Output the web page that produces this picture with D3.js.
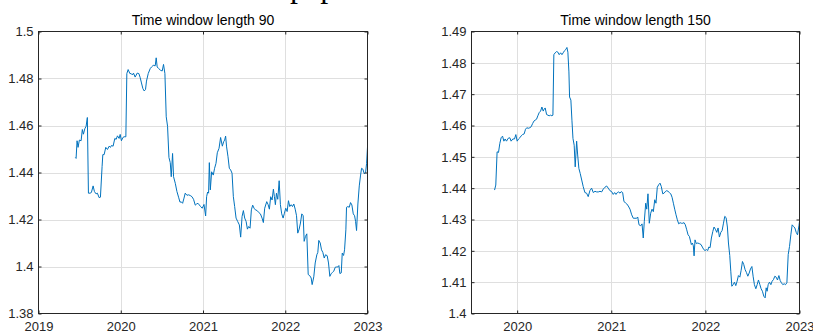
<!DOCTYPE html>
<html>
<head>
<meta charset="utf-8">
<script src="https://cdn.jsdelivr.net/npm/d3@7"></script>
<style>
  html, body { margin: 0; padding: 0; background: #fff; }
  svg { display: block; }
</style>
</head>
<body>
<script>
// Axis ticks for each panel
const yearTicks90 = [2019, 2020, 2021, 2022, 2023];
const valueTicks90 = [1.38, 1.40, 1.42, 1.44, 1.46, 1.48, 1.50];
const yearTicks150 = [2020, 2021, 2022, 2023];
const valueTicks150 = [1.40, 1.41, 1.42, 1.43, 1.44, 1.45, 1.46, 1.47, 1.48, 1.49];

// Panel titles
const titles = ["Time window length 90", "Time window length 150"];

// Rolling estimate, 90-day window: [decimal year, value]
const series90 = [
  [2019.448,1.4464],[2019.457,1.4460],[2019.469,1.4535],[2019.481,1.4507],[2019.497,1.4538],
  [2019.518,1.4535],[2019.533,1.4583],[2019.546,1.4563],[2019.563,1.4586],[2019.579,1.4597],
  [2019.594,1.4634],[2019.607,1.4312],[2019.627,1.4312],[2019.643,1.4315],[2019.664,1.4343],
  [2019.680,1.4319],[2019.700,1.4309],[2019.716,1.4312],[2019.737,1.4293],[2019.753,1.4295],
  [2019.773,1.4425],[2019.782,1.4476],[2019.798,1.4476],[2019.818,1.4507],[2019.838,1.4498],
  [2019.859,1.4512],[2019.875,1.4507],[2019.887,1.4515],[2019.907,1.4512],[2019.928,1.4545],
  [2019.944,1.4541],[2019.960,1.4556],[2019.980,1.4545],[2019.993,1.4562],[2020.008,1.4535],
  [2020.026,1.4549],[2020.041,1.4552],[2020.062,1.4552],[2020.074,1.4821],[2020.090,1.4838],
  [2020.111,1.4821],[2020.127,1.4821],[2020.142,1.4815],[2020.155,1.4823],[2020.175,1.4806],
  [2020.200,1.4823],[2020.220,1.4821],[2020.236,1.4804],[2020.252,1.4781],[2020.269,1.4757],
  [2020.285,1.4747],[2020.301,1.4753],[2020.313,1.4789],[2020.334,1.4821],[2020.358,1.4842],
  [2020.374,1.4849],[2020.395,1.4856],[2020.419,1.4854],[2020.431,1.4888],[2020.443,1.4849],
  [2020.459,1.4843],[2020.484,1.4835],[2020.504,1.4832],[2020.520,1.4860],[2020.537,1.4821],
  [2020.553,1.4637],[2020.569,1.4597],[2020.586,1.4464],[2020.602,1.4442],[2020.614,1.4382],
  [2020.630,1.4481],[2020.642,1.4382],[2020.663,1.4354],[2020.683,1.4319],[2020.703,1.4295],
  [2020.720,1.4274],[2020.736,1.4275],[2020.752,1.4269],[2020.769,1.4291],[2020.784,1.4312],
  [2020.805,1.4303],[2020.825,1.4305],[2020.845,1.4302],[2020.866,1.4297],[2020.885,1.4286],
  [2020.906,1.4261],[2020.922,1.4266],[2020.939,1.4269],[2020.955,1.4262],[2020.971,1.4255],
  [2020.991,1.4248],[2021.012,1.4264],[2021.032,1.4215],[2021.044,1.4297],[2021.056,1.4317],
  [2021.068,1.4312],[2021.077,1.4442],[2021.089,1.4326],[2021.105,1.4403],[2021.125,1.4389],
  [2021.141,1.4418],[2021.158,1.4439],[2021.174,1.4484],[2021.195,1.4503],[2021.214,1.4549],
  [2021.235,1.4512],[2021.251,1.4531],[2021.263,1.4538],[2021.275,1.4555],[2021.287,1.4509],
  [2021.304,1.4467],[2021.320,1.4418],[2021.336,1.4411],[2021.353,1.4397],[2021.369,1.4297],
  [2021.385,1.4255],[2021.402,1.4206],[2021.421,1.4192],[2021.442,1.4177],[2021.458,1.4125],
  [2021.475,1.4213],[2021.491,1.4238],[2021.507,1.4206],[2021.524,1.4192],[2021.540,1.4159],
  [2021.555,1.4170],[2021.572,1.4163],[2021.588,1.4241],[2021.604,1.4261],[2021.621,1.4248],
  [2021.637,1.4241],[2021.658,1.4238],[2021.677,1.4230],[2021.698,1.4224],[2021.718,1.4206],
  [2021.734,1.4187],[2021.750,1.4248],[2021.775,1.4276],[2021.792,1.4263],[2021.807,1.4244],
  [2021.823,1.4297],[2021.840,1.4283],[2021.856,1.4329],[2021.868,1.4297],[2021.880,1.4263],
  [2021.893,1.4312],[2021.909,1.4286],[2021.926,1.4365],[2021.941,1.4263],[2021.957,1.4224],
  [2021.974,1.4206],[2021.990,1.4227],[2022.006,1.4248],[2022.023,1.4234],[2022.039,1.4280],
  [2022.055,1.4255],[2022.072,1.4263],[2022.088,1.4255],[2022.104,1.4266],[2022.121,1.4244],
  [2022.137,1.4216],[2022.152,1.4142],[2022.169,1.4159],[2022.185,1.4185],[2022.201,1.4224],
  [2022.218,1.4216],[2022.230,1.4107],[2022.246,1.4128],[2022.262,1.4139],[2022.279,1.3966],
  [2022.298,1.3961],[2022.315,1.3951],[2022.327,1.3923],[2022.347,1.3956],[2022.364,1.4015],
  [2022.384,1.4050],[2022.396,1.4060],[2022.408,1.4111],[2022.425,1.4100],[2022.441,1.4071],
  [2022.457,1.4060],[2022.474,1.4036],[2022.490,1.4050],[2022.510,1.4046],[2022.526,1.4015],
  [2022.542,1.3958],[2022.559,1.3970],[2022.575,1.3975],[2022.590,1.3980],[2022.608,1.3997],
  [2022.624,1.3998],[2022.639,1.3998],[2022.652,1.4004],[2022.664,1.3970],[2022.681,1.3973],
  [2022.693,1.4057],[2022.709,1.4047],[2022.721,1.4071],[2022.737,1.4156],[2022.745,1.4252],
  [2022.761,1.4255],[2022.778,1.4252],[2022.794,1.4272],[2022.810,1.4262],[2022.827,1.4224],
  [2022.843,1.4216],[2022.855,1.4192],[2022.867,1.4153],[2022.883,1.4266],[2022.900,1.4343],
  [2022.916,1.4389],[2022.928,1.4418],[2022.944,1.4414],[2022.961,1.4394],[2022.977,1.4400],
  [2022.989,1.4439],[2023.000,1.4509]
];

// Rolling estimate, 150-day window: [decimal year, value]
const series150 = [
  [2019.760,1.4394],[2019.773,1.4410],[2019.787,1.4516],[2019.802,1.4514],[2019.816,1.4543],
  [2019.830,1.4561],[2019.845,1.4566],[2019.859,1.4550],[2019.872,1.4557],[2019.887,1.4550],
  [2019.904,1.4559],[2019.922,1.4561],[2019.936,1.4550],[2019.954,1.4557],[2019.972,1.4557],
  [2019.986,1.4571],[2020.000,1.4550],[2020.015,1.4557],[2020.029,1.4561],[2020.043,1.4567],
  [2020.057,1.4571],[2020.074,1.4573],[2020.089,1.4588],[2020.103,1.4593],[2020.117,1.4591],
  [2020.135,1.4593],[2020.149,1.4596],[2020.164,1.4606],[2020.178,1.4614],[2020.191,1.4617],
  [2020.206,1.4620],[2020.220,1.4631],[2020.234,1.4641],[2020.249,1.4646],[2020.263,1.4659],
  [2020.277,1.4646],[2020.287,1.4652],[2020.298,1.4656],[2020.313,1.4635],[2020.327,1.4633],
  [2020.340,1.4631],[2020.355,1.4633],[2020.369,1.4631],[2020.380,1.4633],[2020.390,1.4826],
  [2020.404,1.4832],[2020.419,1.4836],[2020.433,1.4834],[2020.447,1.4826],[2020.462,1.4832],
  [2020.476,1.4826],[2020.489,1.4832],[2020.504,1.4839],[2020.518,1.4843],[2020.529,1.4849],
  [2020.539,1.4834],[2020.550,1.4771],[2020.557,1.4691],[2020.571,1.4681],[2020.582,1.4617],
  [2020.593,1.4559],[2020.606,1.4537],[2020.617,1.4468],[2020.632,1.4550],[2020.643,1.4506],
  [2020.656,1.4463],[2020.670,1.4447],[2020.686,1.4426],[2020.702,1.4405],[2020.720,1.4386],
  [2020.738,1.4384],[2020.755,1.4373],[2020.773,1.4392],[2020.791,1.4400],[2020.809,1.4386],
  [2020.827,1.4390],[2020.845,1.4388],[2020.862,1.4388],[2020.880,1.4390],[2020.898,1.4388],
  [2020.915,1.4397],[2020.933,1.4403],[2020.951,1.4407],[2020.968,1.4400],[2020.986,1.4392],
  [2021.004,1.4389],[2021.021,1.4380],[2021.036,1.4386],[2021.050,1.4380],[2021.064,1.4386],
  [2021.079,1.4388],[2021.093,1.4384],[2021.106,1.4389],[2021.121,1.4386],[2021.135,1.4357],
  [2021.149,1.4354],[2021.164,1.4350],[2021.181,1.4343],[2021.199,1.4333],[2021.217,1.4315],
  [2021.234,1.4304],[2021.252,1.4304],[2021.270,1.4304],[2021.281,1.4308],[2021.295,1.4283],
  [2021.313,1.4280],[2021.327,1.4286],[2021.340,1.4241],[2021.351,1.4294],[2021.366,1.4352],
  [2021.377,1.4333],[2021.390,1.4382],[2021.404,1.4288],[2021.419,1.4320],[2021.433,1.4333],
  [2021.447,1.4325],[2021.462,1.4363],[2021.475,1.4352],[2021.489,1.4403],[2021.504,1.4411],
  [2021.518,1.4416],[2021.532,1.4405],[2021.547,1.4382],[2021.561,1.4384],[2021.574,1.4389],
  [2021.589,1.4392],[2021.603,1.4390],[2021.617,1.4386],[2021.632,1.4382],[2021.646,1.4371],
  [2021.660,1.4352],[2021.674,1.4333],[2021.688,1.4315],[2021.702,1.4299],[2021.717,1.4286],
  [2021.731,1.4290],[2021.745,1.4288],[2021.760,1.4288],[2021.773,1.4290],[2021.787,1.4283],
  [2021.802,1.4267],[2021.816,1.4251],[2021.830,1.4246],[2021.851,1.4220],[2021.862,1.4225],
  [2021.872,1.4216],[2021.880,1.4184],[2021.890,1.4235],[2021.904,1.4223],[2021.919,1.4225],
  [2021.936,1.4223],[2021.954,1.4220],[2021.968,1.4212],[2021.983,1.4204],[2021.997,1.4201],
  [2022.011,1.4204],[2022.025,1.4201],[2022.036,1.4212],[2022.050,1.4210],[2022.064,1.4241],
  [2022.079,1.4262],[2022.092,1.4276],[2022.106,1.4269],[2022.121,1.4259],[2022.135,1.4273],
  [2022.149,1.4244],[2022.164,1.4259],[2022.178,1.4265],[2022.191,1.4286],[2022.206,1.4310],
  [2022.220,1.4306],[2022.234,1.4276],[2022.245,1.4225],[2022.259,1.4185],[2022.270,1.4135],
  [2022.281,1.4087],[2022.295,1.4092],[2022.309,1.4100],[2022.323,1.4089],[2022.337,1.4103],
  [2022.351,1.4121],[2022.366,1.4116],[2022.380,1.4138],[2022.394,1.4166],[2022.408,1.4156],
  [2022.422,1.4140],[2022.436,1.4131],[2022.451,1.4119],[2022.465,1.4129],[2022.479,1.4142],
  [2022.494,1.4150],[2022.507,1.4119],[2022.521,1.4092],[2022.536,1.4079],[2022.550,1.4092],
  [2022.564,1.4107],[2022.579,1.4092],[2022.592,1.4079],[2022.606,1.4071],[2022.621,1.4055],
  [2022.635,1.4050],[2022.646,1.4082],[2022.656,1.4071],[2022.667,1.4092],[2022.681,1.4100],
  [2022.696,1.4092],[2022.709,1.4103],[2022.723,1.4108],[2022.738,1.4119],[2022.752,1.4116],
  [2022.766,1.4107],[2022.781,1.4121],[2022.795,1.4105],[2022.808,1.4098],[2022.823,1.4092],
  [2022.837,1.4095],[2022.851,1.4092],[2022.866,1.4098],[2022.880,1.4188],[2022.894,1.4214],
  [2022.908,1.4251],[2022.922,1.4283],[2022.936,1.4278],[2022.951,1.4273],[2022.965,1.4259],
  [2022.979,1.4251],[2022.994,1.4280],[2023.000,1.4294]
];

const W = 813, H = 333;
const axisColor = "#262626";
const gridColor = "#dfdfdf";
const lineColor = "#0072bd";
const font = "'Liberation Sans', Arial, Helvetica, sans-serif";
const tickLen = 3;

const svg = d3.select("body").append("svg")
  .attr("width", W).attr("height", H)
  .attr("viewBox", `0 0 ${W} ${H}`);

// Cropped heading from the surrounding page
svg.append("text")
  .attr("x", 290).attr("y", -3)
  .attr("font-family", "'Liberation Serif', 'Times New Roman', serif")
  .attr("font-size", 32)
  .attr("fill", "#000")
  .text("paper");

const fmt = v => String(+v.toFixed(2));

function panel(cfg) {
  const { left, right, top, bottom, xDomain, yDomain, xTicks, yTicks, data, title } = cfg;
  const x = d3.scaleLinear().domain(xDomain).range([left, right]);
  const y = d3.scaleLinear().domain(yDomain).range([bottom, top]);
  const g = svg.append("g");

  // Grid lines
  g.append("g").selectAll("line.gx")
    .data(xTicks.filter(t => t > xDomain[0] && t < xDomain[1]))
    .join("line")
    .attr("x1", d => Math.round(x(d)) + 0.5).attr("x2", d => Math.round(x(d)) + 0.5)
    .attr("y1", top).attr("y2", bottom)
    .attr("stroke", gridColor).attr("stroke-width", 1);
  g.append("g").selectAll("line.gy")
    .data(yTicks.filter(t => t > yDomain[0] + 1e-9 && t < yDomain[1] - 1e-9))
    .join("line")
    .attr("x1", left).attr("x2", right)
    .attr("y1", d => Math.round(y(d)) + 0.5).attr("y2", d => Math.round(y(d)) + 0.5)
    .attr("stroke", gridColor).attr("stroke-width", 1);

  // Data line
  const clipId = "clip" + Math.round(left);
  svg.append("clipPath").attr("id", clipId)
    .append("rect").attr("x", left).attr("y", top)
    .attr("width", right - left).attr("height", bottom - top);
  g.append("path")
    .datum(data)
    .attr("clip-path", `url(#${clipId})`)
    .attr("fill", "none")
    .attr("stroke", lineColor)
    .attr("stroke-width", 1)
    .attr("stroke-linejoin", "round")
    .attr("d", d3.line().x(d => x(d[0])).y(d => y(d[1])));

  // Box
  g.append("rect")
    .attr("x", left).attr("y", top)
    .attr("width", right - left).attr("height", bottom - top)
    .attr("fill", "none").attr("stroke", axisColor).attr("stroke-width", 1);

  // Bottom axis with inward ticks, mirrored on the top edge
  const xAxis = d3.axisBottom(x).tickValues(xTicks).tickFormat(d3.format("d"))
    .tickSizeInner(-tickLen).tickSizeOuter(0).tickPadding(8);
  const gx = g.append("g").attr("transform", `translate(0,${bottom})`).call(xAxis);
  const xTop = d3.axisTop(x).tickValues(xTicks).tickFormat("")
    .tickSizeInner(-tickLen).tickSizeOuter(0);
  const gxt = g.append("g").attr("transform", `translate(0,${top})`).call(xTop);

  // Left axis with inward ticks, mirrored on the right edge
  const yAxis = d3.axisLeft(y).tickValues(yTicks).tickFormat(fmt)
    .tickSizeInner(-tickLen).tickSizeOuter(0).tickPadding(5);
  const gy = g.append("g").attr("transform", `translate(${left},0)`).call(yAxis);
  const yRight = d3.axisRight(y).tickValues(yTicks).tickFormat("")
    .tickSizeInner(-tickLen).tickSizeOuter(0);
  const gyr = g.append("g").attr("transform", `translate(${right},0)`).call(yRight);

  [gx, gxt, gy, gyr].forEach(a => {
    a.select(".domain").remove();
    a.selectAll(".tick line").attr("stroke", axisColor);
    a.selectAll(".tick text")
      .attr("fill", axisColor)
      .attr("font-family", font)
      .attr("font-size", 13);
  });

  // Title
  g.append("text")
    .attr("x", (left + right) / 2).attr("y", 25)
    .attr("text-anchor", "middle")
    .attr("font-family", font)
    .attr("font-size", 14)
    .attr("fill", "#000")
    .text(title);
}

panel({
  left: 38.5, right: 367.5, top: 31.5, bottom: 313.5,
  xDomain: [2019, 2023], yDomain: [1.38, 1.50],
  xTicks: yearTicks90, yTicks: valueTicks90,
  data: series90, title: titles[0]
});

panel({
  left: 471.5, right: 799.5, top: 31.5, bottom: 313.5,
  xDomain: [2019.515, 2023], yDomain: [1.40, 1.49],
  xTicks: yearTicks150, yTicks: valueTicks150,
  data: series150, title: titles[1]
});
</script>
</body>
</html>
